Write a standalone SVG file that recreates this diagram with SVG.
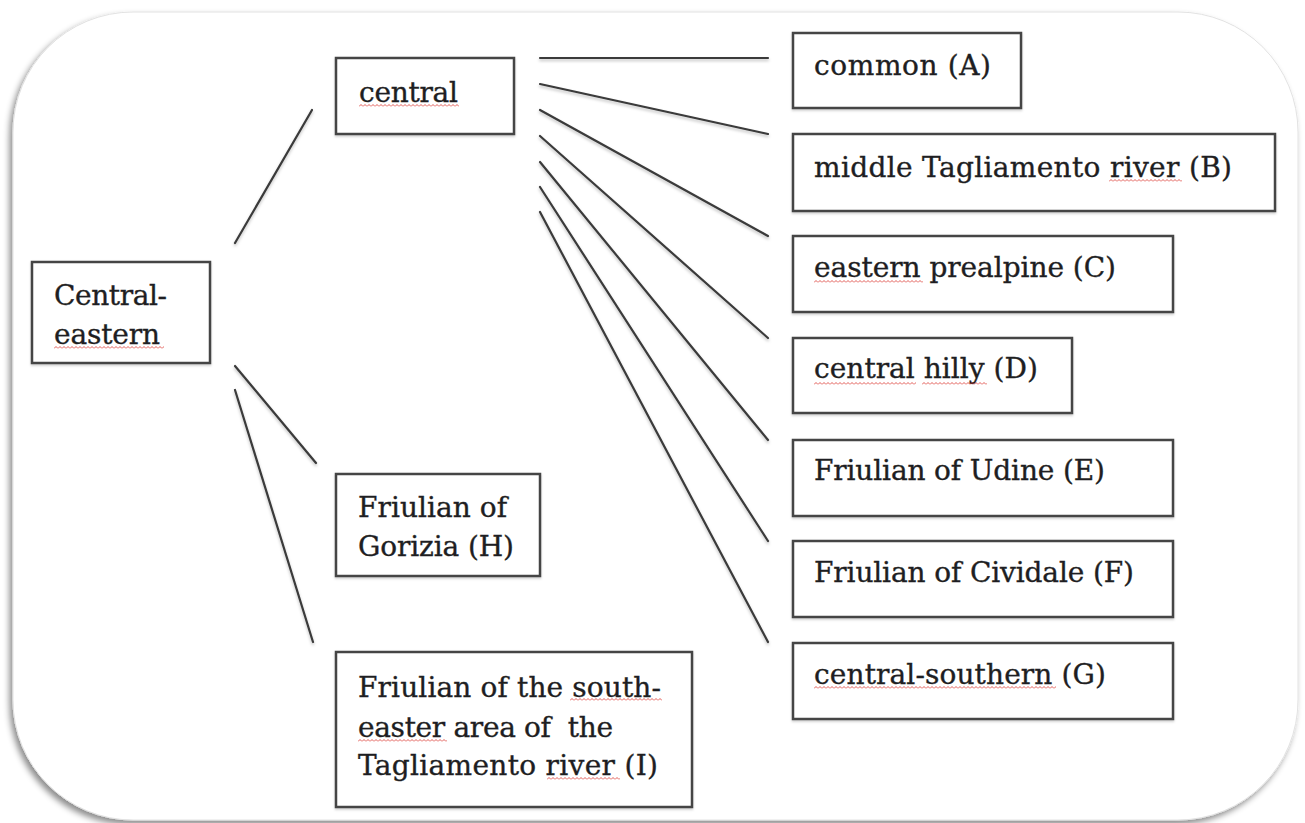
<svg xmlns="http://www.w3.org/2000/svg" width="1305" height="823" viewBox="0 0 1305 823">
<style>
.box{fill:#fff;stroke:#444;stroke-width:2.5;filter:url(#bsh)}
.lbl{font-family:"DejaVu Serif","Liberation Serif",serif;font-size:28px;fill:#1e1e22;stroke:#1e1e22;stroke-width:0.35}
.con line{stroke:#3a3a3a;stroke-width:2.2;stroke-linecap:round;filter:url(#lsh)}
.sq{fill:url(#squig)}
</style>
<defs>
<filter id="fsh" x="-5%" y="-5%" width="110%" height="110%">
<feDropShadow dx="-3" dy="4" stdDeviation="3" flood-color="#000" flood-opacity="0.45"/>
</filter>
<filter id="bsh" x="-10%" y="-10%" width="120%" height="130%">
<feDropShadow dx="0" dy="1.5" stdDeviation="1" flood-color="#000" flood-opacity="0.2"/>
</filter>
<filter id="lsh" filterUnits="userSpaceOnUse" x="0" y="0" width="1305" height="823">
<feDropShadow dx="0" dy="2" stdDeviation="1.5" flood-color="#000" flood-opacity="0.25"/>
</filter>
<pattern id="squig" patternUnits="userSpaceOnUse" width="4" height="3">
<path d="M0,2.5 L2,0.5 L4,2.5" fill="none" stroke="#d9312b" stroke-width="0.8"/>
</pattern>
</defs>
<rect width="1305" height="823" fill="#fff"/>
<rect x="13" y="12" width="1285" height="808" rx="120" ry="120" fill="#fff" stroke="#e2e2e2" stroke-width="1" filter="url(#fsh)"/>

<g class="con" id="connectors">
<line x1="235" y1="243" x2="312" y2="110"/>
<line x1="235" y1="366" x2="316" y2="463"/>
<line x1="235" y1="390" x2="313" y2="642"/>
<line x1="540" y1="58" x2="768" y2="58"/>
<line x1="540" y1="84" x2="768" y2="134"/>
<line x1="540" y1="110" x2="768" y2="236"/>
<line x1="540" y1="136" x2="768" y2="338"/>
<line x1="540" y1="162" x2="768" y2="440"/>
<line x1="540" y1="187" x2="768" y2="541"/>
<line x1="540" y1="212" x2="768" y2="642"/>
</g>

<g id="node-central-eastern">
<rect class="box" x="32" y="262" width="178" height="101"/>
<text class="lbl" x="54" y="305" textLength="113">Central-</text>
<text class="lbl" x="54" y="344" textLength="106">eastern</text>
<g transform="translate(54,346)"><rect class="sq" width="110" height="3"/></g>
</g>

<g id="node-central">
<rect class="box" x="336" y="58" width="178" height="76"/>
<text class="lbl" x="359" y="102" textLength="99">central</text>
<g transform="translate(359,104)"><rect class="sq" width="100" height="3"/></g>
</g>

<g id="node-H">
<rect class="box" x="336" y="474" width="204" height="102"/>
<text class="lbl" x="358" y="517" textLength="149">Friulian of</text>
<text class="lbl" x="358" y="556" textLength="156">Gorizia (H)</text>
</g>

<g id="node-I">
<rect class="box" x="336" y="652" width="356" height="155"/>
<text class="lbl" x="358" y="697" textLength="303">Friulian of the south-</text>
<text class="lbl" x="358" y="737" textLength="255" xml:space="preserve">easter area of  the</text>
<text class="lbl" x="358" y="775" textLength="300">Tagliamento river (I)</text>
<g transform="translate(570,698)"><rect class="sq" width="92" height="3"/></g>
<g transform="translate(358,739)"><rect class="sq" width="89" height="3"/></g>
<g transform="translate(547,777)"><rect class="sq" width="73" height="3"/></g>
</g>

<g id="node-A">
<rect class="box" x="793" y="33" width="228" height="75"/>
<text class="lbl" x="814" y="75" textLength="177">common (A)</text>
</g>

<g id="node-B">
<rect class="box" x="793" y="134" width="482" height="77"/>
<text class="lbl" x="814" y="177" textLength="418">middle Tagliamento river (B)</text>
<g transform="translate(1109,179)"><rect class="sq" width="73" height="3"/></g>
</g>

<g id="node-C">
<rect class="box" x="793" y="236" width="380" height="76"/>
<text class="lbl" x="814" y="277" textLength="302">eastern prealpine (C)</text>
<g transform="translate(814,280)"><rect class="sq" width="109" height="3"/></g>
</g>

<g id="node-D">
<rect class="box" x="793" y="338" width="279" height="75"/>
<text class="lbl" x="814" y="378" textLength="224">central hilly (D)</text>
<g transform="translate(814,382)"><rect class="sq" width="102" height="3"/></g>
<g transform="translate(922,382)"><rect class="sq" width="65" height="3"/></g>
</g>

<g id="node-E">
<rect class="box" x="793" y="440" width="380" height="76"/>
<text class="lbl" x="814" y="480" textLength="291">Friulian of Udine (E)</text>
</g>

<g id="node-F">
<rect class="box" x="793" y="541" width="380" height="76"/>
<text class="lbl" x="814" y="582" textLength="320">Friulian of Cividale (F)</text>
</g>

<g id="node-G">
<rect class="box" x="793" y="643" width="380" height="76"/>
<text class="lbl" x="814" y="684" textLength="292">central-southern (G)</text>
<g transform="translate(814,686)"><rect class="sq" width="242" height="3"/></g>
</g>
</svg>
